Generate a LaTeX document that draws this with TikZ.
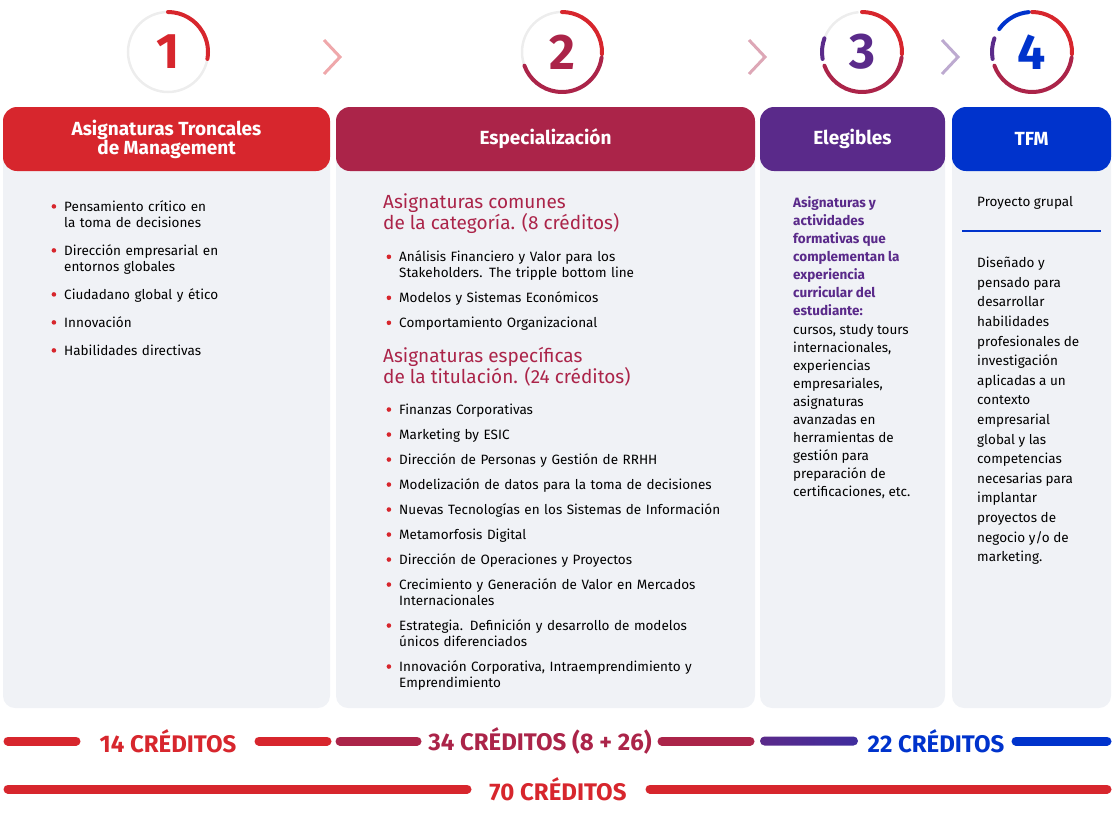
\documentclass[tikz,border=0pt]{standalone}
\usepackage{fontspec}
\setmainfont{Fira Sans}
\usetikzlibrary{positioning}
\definecolor{esic-red}{HTML}{D7262D}
\definecolor{esic-crimson}{HTML}{AB2449}
\definecolor{esic-purple}{HTML}{5A2A8A}
\definecolor{esic-blue}{HTML}{0033CC}
\definecolor{panel-bg}{HTML}{F0F2F6}
\newcommand{\bodyfont}{\fontsize{13.5}{16}\selectfont}
\newcommand{\bitem}[1]{\item #1}
\newlength{\blistsep}
\setlength{\blistsep}{9pt}
\newenvironment{blist}{\begin{list}{\raisebox{0.35ex}{\textcolor{esic-red}{\tikz\fill (0,0) circle[radius=2.3pt];}}}{\leftmargin=16pt\labelsep=8pt\itemsep=\blistsep\parsep=0pt\topsep=0pt}}{\end{list}}

\begin{document}
\begin{tikzpicture}[x=1pt, y=-1pt,
    panel/.style={fill=panel-bg, rounded corners=12pt},
    head/.style={rounded corners=14pt, text=white, font=\fontsize{19}{22}\selectfont\bfseries, align=center},
    body/.style={anchor=north west, align=left, font=\bodyfont, inner sep=0pt},
    bar/.style={line width=9pt, line cap=round},
    credit/.style={font=\fontsize{24}{26}\selectfont\bfseries},
    ring/.style={line width=4pt, line cap=round},
    chev/.style={line width=3pt}]
  \useasboundingbox (0,0) rectangle (1112,825);

  % circles
  \coordinate (c1) at (168,52);
  \coordinate (c2) at (562,52);
  \coordinate (c3) at (862,52);
  \coordinate (c4) at (1032,52);
  \draw[line width=2.5pt, black!7] (c1) circle (40);
  \draw[line width=2.5pt, black!7] (c2) circle (40);
  \draw[line width=2.5pt, black!7] (c3) ++(-160:40) arc[start angle=-160, end angle=-95, radius=40];
  \draw[ring, esic-red] (c1) ++(-90:40) arc[start angle=-90, end angle=10, radius=40];
  \foreach \c in {c2,c3,c4} {
    \draw[ring, esic-red] (\c) ++(-90:40) arc[start angle=-90, end angle=3, radius=40];
    \draw[ring, esic-crimson] (\c) ++(8:40) arc[start angle=8, end angle=160, radius=40];
  }
  \draw[ring, esic-purple] (c3) ++(170:40) arc[start angle=170, end angle=200, radius=40];
  \draw[ring, esic-purple] (c4) ++(170:40) arc[start angle=170, end angle=200, radius=40];
  \draw[ring, esic-blue] (c4) ++(-145:40) arc[start angle=-145, end angle=-95, radius=40];
  \node[text=esic-red, font=\fontsize{50}{50}\selectfont\bfseries] (n1) at (c1) {1};
  \node[text=esic-crimson, font=\fontsize{50}{50}\selectfont\bfseries] (n2) at (c2) {2};
  \node[text=esic-purple, font=\fontsize{50}{50}\selectfont\bfseries] (n3) at (c3) {3};
  \node[text=esic-blue, font=\fontsize{50}{50}\selectfont\bfseries] (n4) at (c4) {4};

  % chevrons
  \draw[chev, esic-red!40] (324,40) -- (340,57) -- (324,74);
  \draw[chev, esic-crimson!40] (749,40) -- (765,57) -- (749,74);
  \draw[chev, esic-purple!40] (942,40) -- (958,57) -- (942,74);

  % panels
  \fill[panel] (3,140) rectangle (330,708);
  \fill[panel] (336,140) rectangle (755,708);
  \fill[panel] (760,140) rectangle (945,708);
  \fill[panel] (952,140) rectangle (1111,708);
  \node[head, fill=esic-red, minimum width=327pt, minimum height=64pt] (h1) at (166.5,139) {Asignaturas Troncales\\[-3pt]de Management};
  \node[head, fill=esic-crimson, minimum width=419pt, minimum height=64pt] (h2) at (545.5,139) {Especialización};
  \node[head, fill=esic-purple, minimum width=185pt, minimum height=64pt] (h3) at (852.5,139) {Elegibles};
  \node[head, fill=esic-blue, minimum width=159pt, minimum height=64pt] (h4) at (1031.5,139) {TFM};

  % column 1
  \node[body, text width=200pt] (t1) at (48,195) {\setlength{\blistsep}{12pt}\begin{blist}
    \bitem{Pensamiento crítico en\\la toma de decisiones}
    \bitem{Dirección empresarial en\\entornos globales}
    \bitem{Ciudadano global y ético}
    \bitem{Innovación}
    \bitem{Habilidades directivas}
  \end{blist}};

  % column 2
  \node[body, text=esic-crimson, font=\fontsize{19}{20}\selectfont] (s1) at (383,193) {Asignaturas comunes\\de la categoría. (8 créditos)};
  \node[body, text width=370pt, below=12pt of s1.south west, anchor=north west] (t2) {\begin{blist}
    \bitem{Análisis Financiero y Valor para los\\Stakeholders. The tripple bottom line}
    \bitem{Modelos y Sistemas Económicos}
    \bitem{Comportamiento Organizacional}
  \end{blist}};
  \node[body, text=esic-crimson, font=\fontsize{19}{20}\selectfont, below=16pt of t2.south west, anchor=north west] (s2) {Asignaturas específicas\\de la titulación. (24 créditos)};
  \node[body, text width=370pt, below=12pt of s2.south west, anchor=north west] (t3) {\begin{blist}
    \bitem{Finanzas Corporativas}
    \bitem{Marketing by ESIC}
    \bitem{Dirección de Personas y Gestión de RRHH}
    \bitem{Modelización de datos para la toma de decisiones}
    \bitem{Nuevas Tecnologías en los Sistemas de Información}
    \bitem{Metamorfosis Digital}
    \bitem{Dirección de Operaciones y Proyectos}
    \bitem{Crecimiento y Generación de Valor en Mercados\\Internacionales}
    \bitem{Estrategia. Definición y desarrollo de modelos\\únicos diferenciados}
    \bitem{Innovación Corporativa, Intraemprendimiento y\\Emprendimiento}
  \end{blist}};

  % column 3
  \node[body, text=esic-purple, font=\fontsize{13.5}{18}\selectfont\bfseries] (t4) at (793,196) {Asignaturas y\\actividades\\formativas que\\complementan la\\experiencia\\curricular del\\estudiante:};
  \node[body, font=\fontsize{13.5}{18}\selectfont, below=9pt of t4.south west, anchor=north west] (t5) {cursos, study tours\\internacionales,\\experiencias\\empresariales,\\asignaturas\\avanzadas en\\herramientas de\\gestión para\\preparación de\\certificaciones, etc.};

  % column 4
  \node[body] (t6) at (977,196) {Proyecto grupal};
  \coordinate (r1) at (962,231);
  \coordinate (r2) at (1101,231);
  \draw[line width=2pt, esic-blue] (r1) -- (r2);
  \node[body, font=\fontsize{13.5}{19.6}\selectfont] (t7) at (977,257) {Diseñado y\\pensado para\\desarrollar\\habilidades\\profesionales de\\investigación\\aplicadas a un\\contexto\\empresarial\\global y las\\competencias\\necesarias para\\implantar\\proyectos de\\negocio y/o de\\marketing.};

  % credit bars
  \node[credit, text=esic-red] (k1) at (168,741) {14 CRÉDITOS};
  \node[credit, text=esic-crimson] (k2) at (540,741) {34 CRÉDITOS (8 + 26)};
  \node[credit, text=esic-blue] (k3) at (936,741) {22 CRÉDITOS};
  \node[credit, text=esic-red] (k4) at (558,789) {70 CRÉDITOS};
  \draw[bar, esic-red] (8,741) -- (76,741) (259,741) -- (327,741);
  \draw[bar, esic-crimson] (340,741) -- (417,741) (662,741) -- (750,741);
  \shade[left color=esic-purple, right color=esic-purple!70!esic-blue, rounded corners=4.5pt] (760,736.5) rectangle (858,745.5);
  \draw[bar, esic-blue] (1016,741) -- (1107,741);
  \draw[bar, esic-red] (8,789) -- (467,789) (650,789) -- (1107,789);
\end{tikzpicture}
\end{document}
